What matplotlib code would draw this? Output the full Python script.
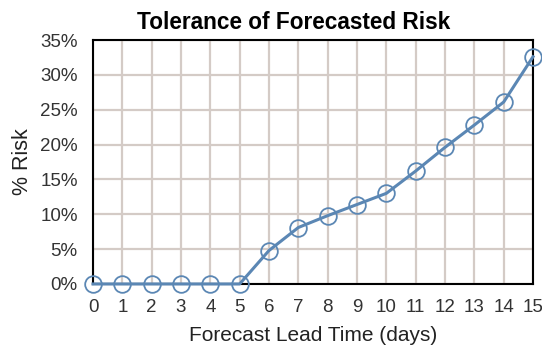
import matplotlib.pyplot as plt
from matplotlib.ticker import FuncFormatter

# Forecast lead time (days) and tolerated risk (%)
lead_days = [0, 1, 2, 3, 4, 5, 6, 7, 8, 9, 10, 11, 12, 13, 14, 15]
risk_pct = [0, 0, 0, 0, 0, 0, 4.8, 8.1, 9.8, 11.4, 13.0, 16.2, 19.6, 22.8, 26.1, 32.6]

plt.rcParams['font.family'] = ['Liberation Sans', 'DejaVu Sans']

fig = plt.figure(figsize=(5.42, 3.51), dpi=100)
ax = fig.add_axes([0.1716, 0.191, 0.8118, 0.695])

line_color = '#5b87b4'
ax.plot(lead_days, risk_pct, color=line_color, linewidth=2.2,
        marker='o', markersize=12, markerfacecolor='none',
        markeredgecolor=line_color, markeredgewidth=1.3, clip_on=False, zorder=3)

ax.set_xlim(0, 15)
ax.set_ylim(0, 35)
ax.set_xticks(lead_days)
ax.set_yticks(range(0, 36, 5))
ax.yaxis.set_major_formatter(FuncFormatter(lambda v, _: f'{v:.0f}%'))

# Grid lines and frame
ax.grid(True, color='#d4cbc6', linewidth=1.6)
ax.set_axisbelow(True)
for spine in ax.spines.values():
    spine.set_color('black')
    spine.set_linewidth(1.5)
ax.tick_params(length=0, labelsize=13.5, colors='#333333')
ax.tick_params(axis='x', pad=11)
ax.tick_params(axis='y', pad=11)

ax.set_xlabel('Forecast Lead Time (days)', fontsize=15, labelpad=7, color='#222222')
ax.set_ylabel('% Risk', fontsize=15.5, labelpad=5, color='#222222')
ax.set_title('Tolerance of Forecasted Risk', fontsize=16.3, fontweight='bold',
             pad=8, x=0.455)

plt.savefig('out.png', dpi=100)
